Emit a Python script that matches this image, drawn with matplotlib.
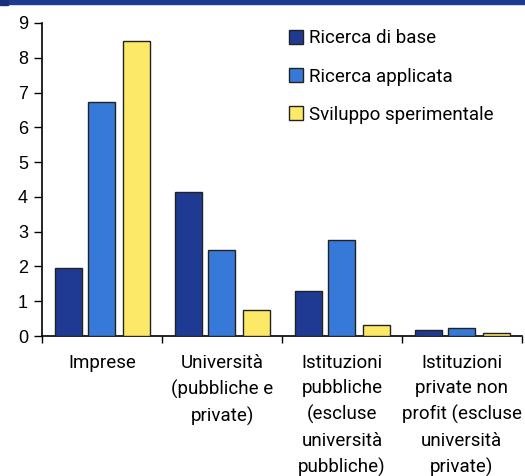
import matplotlib.pyplot as plt
from matplotlib.patches import Rectangle
import numpy as np

categories = [
    "Imprese",
    "Università\n(pubbliche e\nprivate)",
    "Istituzioni\npubbliche\n(escluse\nuniversità\npubbliche)",
    "Istituzioni\nprivate non\nprofit (escluse\nuniversità\nprivate)",
]
series_names = ["Ricerca di base", "Ricerca applicata", "Sviluppo sperimentale"]
ricerca_base = [1.96, 4.13, 1.30, 0.17]
ricerca_applicata = [6.72, 2.48, 2.77, 0.23]
sviluppo = [8.47, 0.74, 0.31, 0.08]
yticks = list(range(0, 10))

colors = ["#1F3A93", "#3679D8", "#FDE968"]

plt.rcParams["font.family"] = ["Roboto", "DejaVu Sans"]

fig = plt.figure(figsize=(5.25, 4.76), dpi=100)
ax = fig.add_axes([0.08, 0.294, 0.914, 0.6577])

# top band
fig.patches.append(Rectangle((0, 1 - 4 / 476), 1, 4 / 476, transform=fig.transFigure,
                             color="#1F3A93", zorder=0))
fig.patches.append(Rectangle((0, 1 - 5 / 476), 8 / 525, 5 / 476, transform=fig.transFigure,
                             color="#16307F", zorder=0))

x = np.arange(len(categories))
offsets = [-0.275, 0.0, 0.285]
width = 0.225
for vals, off, col, name in zip([ricerca_base, ricerca_applicata, sviluppo], offsets, colors, series_names):
    ax.bar(x + off, vals, width=width, color=col, edgecolor="#222222", linewidth=1.0, label=name, zorder=3)

ax.set_xlim(-0.5, len(categories) - 0.5)
ax.set_ylim(0, 9)
ax.set_yticks(yticks)
ax.set_yticklabels([str(t) for t in yticks], fontsize=13, family=["Liberation Sans", "DejaVu Sans"])
ax.tick_params(axis="y", direction="out", length=6, width=1, pad=4)

ax.set_xticks(x)
ax.set_xticklabels(categories, fontsize=13.5, linespacing=1.52, va="top")
ax.tick_params(axis="x", which="major", length=0, pad=13)
ax.set_xticks(np.arange(-0.5, len(categories)), minor=True)
ax.tick_params(axis="x", which="minor", direction="out", length=5, width=1)

for s in ["top", "right"]:
    ax.spines[s].set_visible(False)
ax.spines["left"].set_linewidth(1.2)
ax.spines["bottom"].set_linewidth(1.2)

ax.legend(loc="upper left", bbox_to_anchor=(0.537, 0.954), bbox_transform=fig.transFigure,
          frameon=False, fontsize=13.5, handlelength=0.75, handleheight=0.75,
          handletextpad=0.3, labelspacing=1.08, borderaxespad=0)

fig.savefig("out.png", dpi=100)
